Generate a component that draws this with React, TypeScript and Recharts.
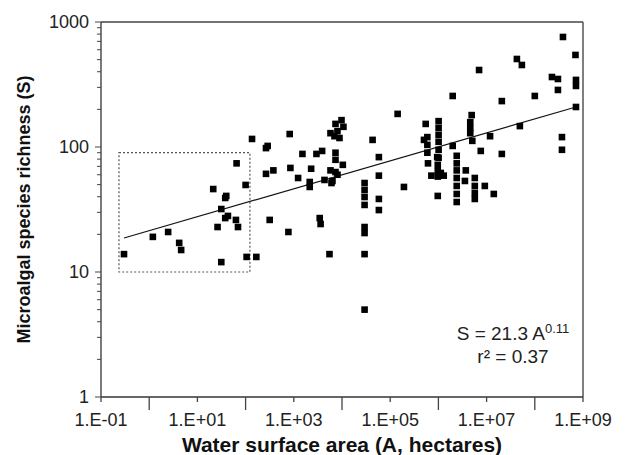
import { ScatterChart, Scatter, XAxis, YAxis, ReferenceLine, ReferenceArea } from 'recharts';

// water surface area (ha) and species richness
const areas = [
  0.3, 1.19, 2.47, 4.19, 4.6, 21.3, 26.2, 31.3, 31.3, 37.8, 39.7, 37.8, 43, 63, 69.5, 65, 100, 105, 136, 167,
  265, 287, 265, 377, 316, 822, 850, 1228, 773, 1510, 2140, 2140, 2290, 2950, 3870, 3450, 3600, 4330, 6050, 5500,
  5770, 7330, 9770, 10700, 8050, 6980, 8870, 7330, 7330, 10400, 5770, 7330, 8050, 6340,
  29400, 29400, 29400, 29400, 29400, 29400, 29400, 29400, 43100, 58200, 58200, 58200, 58200, 142600, 192800,
  5.45e5, 5.02e5, 5.9e5, 5.9e5, 5.9e5, 6.08e5, 7.15e5, 9.44e5, 1.01e6, 1.01e6, 1.01e6, 1.01e6, 1.01e6, 1.01e6,
  9.7e5, 9.7e5, 9.7e5, 1.29e6, 9.7e5, 1.12e6, 1.98e6, 1.98e6, 2.4e6, 2.4e6, 2.4e6, 2.4e6, 2.4e6, 2.4e6, 2.4e6,
  3.7e6, 3.55e6, 4.58e6, 4.58e6, 4.58e6, 4.9e6, 5.05e6, 5.69e6, 5.69e6, 5.69e6, 5.69e6, 6.98e6, 7.57e6, 9.18e6,
  1.18e7, 1.41e7, 2.07e7, 2.07e7, 4.25e7, 5.39e7, 4.9e7, 1.0e8, 2.27e8, 3.02e8, 3.02e8, 3.66e8, 3.66e8, 3.84e8,
  6.98e8, 7.15e8, 7.15e8, 7.15e8,
];
const richness = [
  13.9, 19.1, 20.9, 17.1, 15, 46.1, 22.9, 31.9, 12, 39.1, 40.6, 27, 28.1, 26.1, 22.9, 74, 49.7, 13.2, 116, 13.2,
  98, 102, 61, 65, 26.1, 127, 68, 56.5, 20.9, 88, 52.5, 47.9, 67, 88, 93, 27, 24.2, 54.5, 51.5, 13.9,
  129, 153, 164, 145, 134, 122, 118, 90, 79, 72, 65, 63, 60, 53.5,
  51.5, 45.3, 39.8, 34.4, 22.9, 20.5, 13.9, 5, 114, 83, 59, 38.4, 31.3, 184, 47.9,
  153, 114, 120, 104, 90, 74, 59, 83, 161, 142, 125, 110, 95, 82,
  72, 64, 58, 59, 40.6, 62, 256, 102, 85, 74, 65, 56.5, 48.8, 42.1, 36.3,
  65, 53.5, 158, 142, 129, 180, 112, 56.5, 48.8, 42.9, 38.4, 413, 93, 48.8,
  122, 42.1, 233, 88, 506, 453, 147, 256, 363, 350, 286, 120, 95, 759,
  545, 344, 308, 209,
];

// fitted S = 21.3 A^0.11, ends of the drawn line
const fitArea = [0.3, 7.15e8];
const fitRichness = [18.7, 209];

// dotted box round the small waters
const boxArea = [0.236, 123];
const boxRichness = [10, 90];

const xTicks = [1e-1, 1e0, 1e1, 1e2, 1e3, 1e4, 1e5, 1e6, 1e7, 1e8, 1e9];
const xTickLabels = ['1.E-01', '', '1.E+01', '', '1.E+03', '', '1.E+05', '', '1.E+07', '', '1.E+09'];
const yTicks = [
  1, 2, 3, 4, 5, 6, 7, 8, 9, 10, 20, 30, 40, 50, 60, 70, 80, 90, 100, 200, 300, 400, 500, 600, 700, 800, 900, 1000,
];
const yMajor = [1, 10, 100, 1000];

const points = areas.map((a, i) => ({ a, s: richness[i] }));

const font = '"Liberation Sans", Arial, sans-serif';

const Square = (props: any) => {
  const { cx, cy } = props;
  return <rect x={cx - 3.3} y={cy - 3.3} width={6.6} height={6.6} fill="#000" />;
};

const XTick = (props: any) => {
  const { x, y, index } = props;
  const label = xTickLabels[index];
  const len = label ? 5 : 13;
  return (
    <g>
      <line x1={x} y1={y} x2={x} y2={y + len} stroke="#444" strokeWidth={1.3} />
      {label && (
        <text x={x} y={y + 29} textAnchor="middle" fontSize={18} fontFamily={font} fill="#222">
          {label}
        </text>
      )}
    </g>
  );
};

const YTick = (props: any) => {
  const { x, y, payload } = props;
  const major = yMajor.includes(payload.value);
  return (
    <g>
      <line x1={x - (major ? 6 : 4)} y1={y} x2={x} y2={y} stroke="#444" strokeWidth={1} />
      {major && (
        <text x={x - 12} y={y + 6} textAnchor="end" fontSize={18} fontFamily={font} fill="#222">
          {payload.value}
        </text>
      )}
    </g>
  );
};

export default function App() {
  return (
    <div style={{ position: 'absolute', left: 0, top: 0, width: 626, height: 455, background: '#fff' }}>
      <ScatterChart width={626} height={455} margin={{ top: 22, right: 43, bottom: 0, left: 0 }}>
        <XAxis
          type="number"
          dataKey="a"
          scale="log"
          domain={[1e-1, 1e9]}
          ticks={xTicks}
          interval={0}
          allowDataOverflow
          height={58}
          tickSize={0}
          tickMargin={0}
          tickLine={false}
          stroke="#333"
          strokeWidth={1.3}
          tick={(p: any) => <XTick {...p} />}
          label={{
            value: 'Water surface area (A, hectares)',
            position: 'insideBottom',
            offset: 3,
            style: { fontSize: 21, fontWeight: 'bold', fontFamily: font, fill: '#111' },
          }}
        />
        <YAxis
          type="number"
          dataKey="s"
          scale="log"
          domain={[1, 1000]}
          ticks={yTicks}
          interval={0}
          allowDataOverflow
          width={101}
          tickSize={0}
          tickMargin={0}
          tickLine={false}
          stroke="#333"
          strokeWidth={1.3}
          tick={(p: any) => <YTick {...p} />}
          label={{
            value: 'Microalgal species richness (S)',
            angle: -90,
            position: 'insideLeft',
            offset: 24,
            style: { textAnchor: 'middle', fontSize: 18, fontWeight: 'bold', fontFamily: font, fill: '#111' },
          }}
        />
        <ReferenceLine y={1000} stroke="#444" strokeWidth={1.3} />
        <ReferenceLine x={1e9} stroke="#555" strokeWidth={1.5} />
        <ReferenceArea
          x1={boxArea[0]}
          x2={boxArea[1]}
          y1={boxRichness[0]}
          y2={boxRichness[1]}
          fill="none"
          fillOpacity={0}
          stroke="#555"
          strokeWidth={1.2}
          strokeDasharray="2 2"
        />
        <ReferenceLine
          segment={[
            { x: fitArea[0], y: fitRichness[0] },
            { x: fitArea[1], y: fitRichness[1] },
          ]}
          stroke="#111"
          strokeWidth={1.2}
        />
        <Scatter data={points} shape={Square} isAnimationActive={false} />
      </ScatterChart>
      <div
        style={{
          position: 'absolute',
          left: 436,
          width: 154,
          top: 317,
          textAlign: 'center',
          fontFamily: font,
          fontSize: 19,
          color: '#222',
          lineHeight: '23px',
        }}
      >
        <div>
          S = 21.3 A<sup style={{ fontSize: 13, verticalAlign: 7 }}>0.11</sup>
        </div>
        <div>r² = 0.37</div>
      </div>
    </div>
  );
}
